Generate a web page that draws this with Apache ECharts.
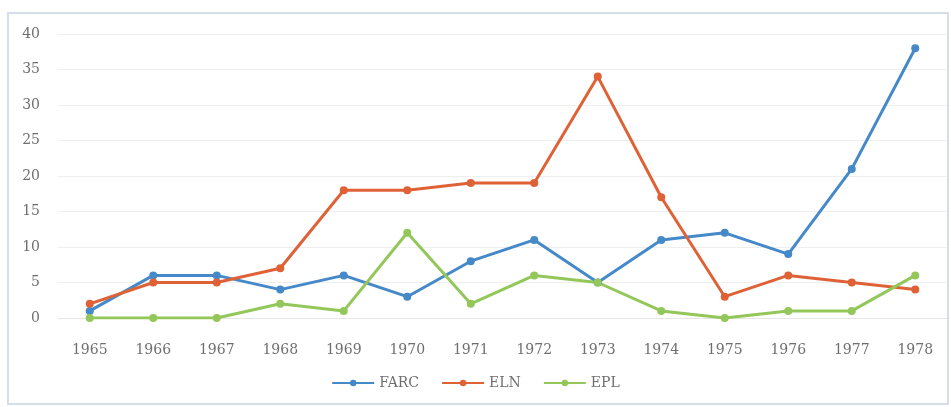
<!DOCTYPE html>
<html><head><meta charset="utf-8">
<script src="https://cdn.jsdelivr.net/npm/echarts@6/dist/echarts.min.js"></script>
<style>html,body{margin:0;padding:0;background:#fff}#c{width:951px;height:407px}</style>
</head><body><div id="c"></div>
<script>
const years = ['1965','1966','1967','1968','1969','1970','1971','1972','1973','1974','1975','1976','1977','1978'];
const farc = [1, 6, 6, 4, 6, 3, 8, 11, 5, 11, 12, 9, 21, 38];
const eln  = [2, 5, 5, 7, 18, 18, 19, 19, 34, 17, 3, 6, 5, 4];
const epl  = [0, 0, 0, 2, 1, 12, 2, 6, 5, 1, 0, 1, 1, 6];
const names = ['FARC', 'ELN', 'EPL'];
const colors = ['#4589c9', '#df6237', '#93c75a'];

const chart = echarts.init(document.getElementById('c'), null, {renderer: 'canvas'});
const font = 'DejaVu Serif';
const mk = (name, data, color) => ({
  name, type: 'line', data, color,
  symbol: 'circle', symbolSize: 8,
  lineStyle: {width: 3, color},
  itemStyle: {color},
  animation: false
});
chart.setOption({
  animation: false,
  graphic: [{type: 'rect', shape: {x: 8, y: 13, width: 940, height: 391},
    style: {fill: 'none', stroke: '#d6dce8', lineWidth: 2}, z: -1}],
  grid: {left: 58, right: 4, top: 34, bottom: 89},
  legend: {
    data: names, bottom: 12, left: 'center',
    itemWidth: 42, itemHeight: 8, itemGap: 22,
    textStyle: {fontFamily: font, fontSize: 14, color: '#6f6f6f'}
  },
  xAxis: {
    type: 'category', data: years, boundaryGap: true,
    axisLine: {show: true, lineStyle: {color: '#e6e6e6'}},
    axisTick: {show: false},
    axisLabel: {fontFamily: font, fontSize: 14, color: '#6f6f6f', margin: 25}
  },
  yAxis: {
    type: 'value', min: 0, max: 40, interval: 5,
    axisLine: {show: false}, axisTick: {show: false},
    splitLine: {lineStyle: {color: '#efefef'}},
    axisLabel: {fontFamily: font, fontSize: 14, color: '#6f6f6f', margin: 18}
  },
  series: [mk(names[0], farc, colors[0]), mk(names[1], eln, colors[1]), mk(names[2], epl, colors[2])]
});
</script></body></html>
